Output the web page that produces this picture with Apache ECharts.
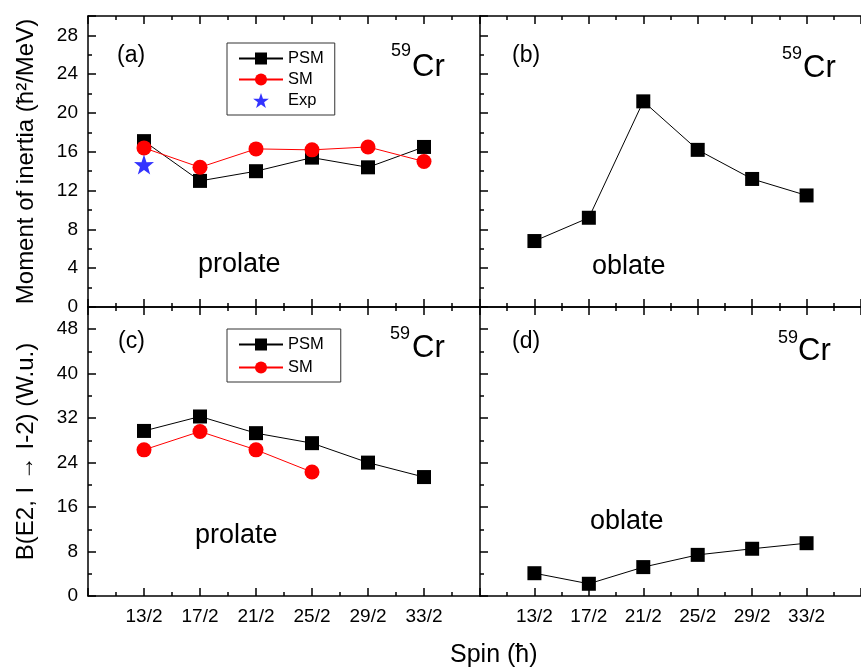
<!DOCTYPE html>
<html><head><meta charset="utf-8">
<script src="https://cdn.jsdelivr.net/npm/echarts@6/dist/echarts.min.js"></script>
<style>html,body{margin:0;padding:0;background:#fff}#c{width:861px;height:669px}</style>
</head><body><div id="c"></div>
<script>
// ---- data ----
const spinValues = [6.5, 8.5, 10.5, 12.5, 14.5, 16.5];
const spinLabels = ['13/2', '17/2', '21/2', '25/2', '29/2', '33/2'];
const moiProlatePSM = [17.1, 13.0, 14.0, 15.4, 14.4, 16.5];
const moiProlateSM = [16.4, 14.4, 16.3, 16.2, 16.5, 15.0];
const moiExp = [14.7];
const moiOblatePSM = [6.8, 9.2, 21.2, 16.2, 13.2, 11.5];
const be2ProlatePSM = [29.7, 32.3, 29.3, 27.5, 24.0, 21.4];
const be2ProlateSM = [26.3, 29.6, 26.3, 22.3];
const be2OblatePSM = [4.1, 2.2, 5.2, 7.4, 8.5, 9.5];
const moiTicks = [0, 4, 8, 12, 16, 20, 24, 28];
const be2Ticks = [0, 8, 16, 24, 32, 40, 48];

const FONT = 'Liberation Sans, Arial, sans-serif';
const pairs = (ys) => ys.map((y, i) => [spinValues[i], y]);

const grids = [
  {left: 88, top: 16, width: 392, height: 291},
  {left: 480, top: 16, width: 392, height: 291},
  {left: 88, top: 307, width: 392, height: 289},
  {left: 480, top: 307, width: 392, height: 289}
];

function xAx(gi, pos, labels) {
  return {
    type: 'value', gridIndex: gi, position: pos, min: 4.5, max: 18.5, interval: 2,
    axisLine: {show: true, lineStyle: {color: '#000', width: 1.5}},
    axisTick: {show: true, inside: true, length: 8, lineStyle: {color: '#000', width: 1.5}},
    minorTick: {show: true, splitNumber: 2, length: 4, lineStyle: {color: '#000', width: 1.5}},
    splitLine: {show: false},
    axisLabel: {
      show: labels, margin: 11, color: '#000', fontFamily: FONT, fontSize: 19,
      showMinLabel: false, showMaxLabel: false,
      formatter: (v) => { const i = spinValues.indexOf(v); return i >= 0 ? spinLabels[i] : ''; }
    }
  };
}
function yAx(gi, max, interval, ticks, labels, name) {
  return {
    type: 'value', gridIndex: gi, min: 0, max: max, interval: interval,
    name: name, nameLocation: 'middle', nameGap: 50,
    nameTextStyle: {color: '#000', fontFamily: FONT, fontSize: 24},
    axisLine: {show: true, lineStyle: {color: '#000', width: 1.5}},
    axisTick: {show: true, inside: true, length: 8, lineStyle: {color: '#000', width: 1.5}},
    minorTick: {show: true, splitNumber: 2, length: 4, lineStyle: {color: '#000', width: 1.5}},
    splitLine: {show: false},
    axisLabel: {
      show: labels, margin: 10, color: '#000', fontFamily: FONT, fontSize: 19,
      showMaxLabel: false,
      formatter: (v) => ticks.indexOf(v) >= 0 ? String(v) : ''
    }
  };
}

const xAxes = [], yAxes = [];
for (let g = 0; g < 4; g++) {
  xAxes.push(xAx(g, 'bottom', g >= 2));
  xAxes.push(xAx(g, 'top', false));
}
yAxes.push(yAx(0, 30, 4, moiTicks, true, 'Moment of inertia (ħ²/MeV)'));
yAxes.push(yAx(1, 30, 4, moiTicks, false, ''));
yAxes.push(yAx(2, 52, 8, be2Ticks, true, 'B(E2, I → I-2) (W.u.)'));
yAxes.push(yAx(3, 52, 8, be2Ticks, false, ''));

function psm(gi, data) {
  return {
    name: 'PSM', type: 'line', xAxisIndex: gi * 2, yAxisIndex: gi, data: pairs(data),
    symbol: 'rect', symbolSize: 14, color: '#000',
    lineStyle: {color: '#000', width: 1}, itemStyle: {color: '#000'}, z: 3
  };
}
function sm(gi, data) {
  return {
    name: 'SM', type: 'line', xAxisIndex: gi * 2, yAxisIndex: gi, data: pairs(data),
    symbol: 'circle', symbolSize: 15, color: '#ff0000',
    lineStyle: {color: '#ff0000', width: 1}, itemStyle: {color: '#ff0000'}, z: 4
  };
}

const series = [
  psm(0, moiProlatePSM), sm(0, moiProlateSM),
  {name: 'Exp', type: 'scatter', xAxisIndex: 0, yAxisIndex: 0, data: pairs(moiExp),
   symbol: 'path://M50,0 L61.8,35.4 L97.6,34.5 L69.1,56.5 L79.4,90.5 L50,70 L20.6,90.5 L30.9,56.5 L2.4,34.5 L38.2,35.4 Z',
   symbolSize: 20, itemStyle: {color: '#0000ff'}, z: 5},
  psm(1, moiOblatePSM),
  psm(2, be2ProlatePSM), sm(2, be2ProlateSM),
  psm(3, be2OblatePSM)
];

const legendBase = {
  orient: 'vertical', itemWidth: 44, itemHeight: 15, itemGap: 4,
  borderColor: '#333', borderWidth: 1, borderRadius: 0,
  textStyle: {color: '#000', fontFamily: FONT, fontSize: 16.5}, selectedMode: false
};

const txt = (x, y, s, size, extra) => Object.assign({
  type: 'text', left: x, top: y,
  style: {text: s, fill: '#000', font: size + 'px ' + FONT}
}, extra || {});

const graphic = [
  txt(117, 44, '(a)', 23), txt(512, 44, '(b)', 23),
  txt(118, 330, '(c)', 23), txt(512, 330, '(d)', 23),
  txt(391, 42, '59', 18), txt(412, 52, 'Cr', 31),
  txt(782, 45, '59', 18), txt(803, 53, 'Cr', 31),
  txt(390, 325, '59', 18), txt(412, 333, 'Cr', 31),
  txt(778, 329, '59', 18), txt(798, 336, 'Cr', 31),
  txt(198, 251, 'prolate', 27), txt(195, 522, 'prolate', 27),
  txt(592, 253, 'oblate', 27), txt(590, 508, 'oblate', 27),
  txt(450, 643, 'Spin (ħ)', 25)
];

const option = {
  backgroundColor: '#fff',
  animation: false,
  grid: grids,
  xAxis: xAxes,
  yAxis: yAxes,
  legend: [
    Object.assign({}, legendBase, {left: 227, top: 43, padding: [7, 11, 6, 11], data: ['PSM', 'SM', 'Exp']}),
    Object.assign({}, legendBase, {left: 227, top: 329, padding: [7, 17, 6, 11], itemGap: 6, data: ['PSM', 'SM']})
  ],
  series: series,
  graphic: graphic
};

const chart = echarts.init(document.getElementById('c'), null, {renderer: 'canvas'});
chart.setOption(option);
</script>
</body></html>
